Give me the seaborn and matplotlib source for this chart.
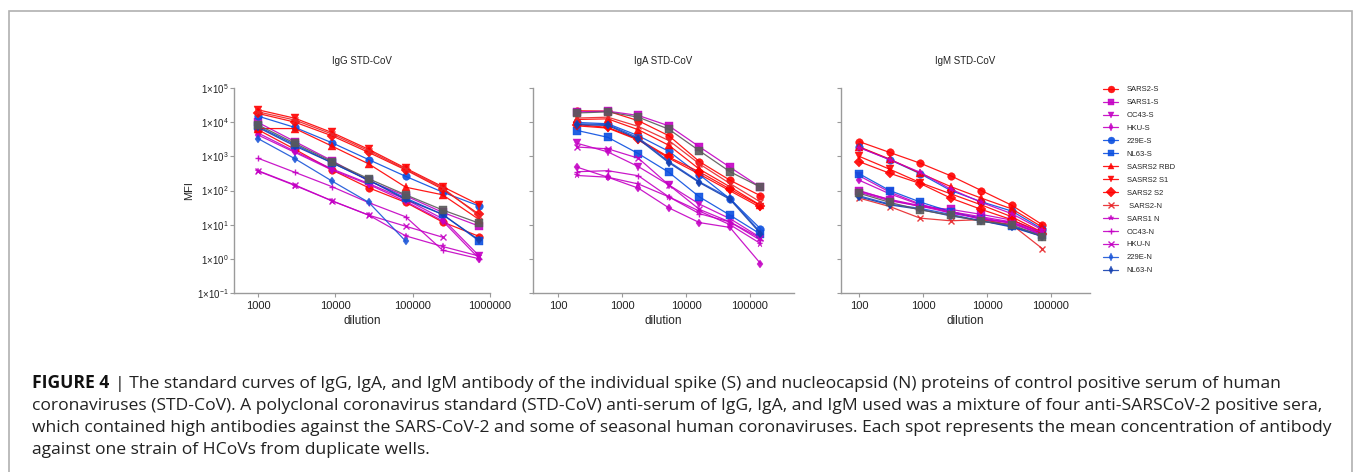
import numpy as np
import matplotlib
matplotlib.use('Agg')
import matplotlib.pyplot as plt
import seaborn as sns
from matplotlib.patches import Rectangle
from matplotlib.ticker import NullLocator

# series in legend order (the last grey one has no legend entry)
series_names = ['SARS2-S', 'SARS1-S', 'OC43-S', 'HKU-S', '229E-S', 'NL63-S',
                'SASRS2 RBD', 'SASRS2 S1', 'SARS2 S2', ' SARS2-N', 'SARS1 N',
                'OC43-N', 'HKU-N', '229E-N', 'NL63-N', '_grey']
series_colors = ['#ff0000', '#c400c4', '#c400c4', '#c400c4', '#0a4fe0', '#0a4fe0',
                 '#ff0000', '#ff0000', '#ff0000', '#e8262a', '#c400c4',
                 '#c400c4', '#c400c4', '#1a55d8', '#1540b0', '#5a5a5a']
series_markers = ['o', 's', 'v', 'd', 'o', 's', '^', 'v', 'D', 'x', '*',
                  '+', 'x', 'd', 'd', 's']

igg_dil = [1000, 3000, 9000, 27000, 81000, 243000, 729000]
iga_dil = [200, 600, 1800, 5400, 16200, 48600, 145800]
igm_dil = [100, 300, 900, 2700, 8100, 24300, 72900]

nan = np.nan
igg_mfi = [
    [6000, 1600, 400, 120, 45, 12, 4.5],
    [9800, 2700, 750, 190, 70, 23, 9],
    [4800, 1400, 430, 160, 55, 15, 1.2],
    [4200, 1300, 400, 150, 48, 13, 1.0],
    [15000, 7000, 2500, 800, 260, 90, 35],
    [7500, 2200, 650, 200, 60, 20, 3.3],
    [6500, 6500, 2000, 600, 125, 75, 14],
    [23000, 13000, 5000, 1600, 450, 130, 38],
    [18000, 10000, 4000, 1300, 400, 110, 20],
    [20000, 11500, 4500, 1450, 420, 120, 18],
    [370, 140, 50, 19, 4.7, 2.3, 1.2],
    [880, 340, 130, 44, 17, 1.8, 1.0],
    [380, 145, 50, 19, 9, 4.3, nan],
    [3300, 850, 190, 45, 3.3, nan, nan],
    [7000, 2000, 650, 200, 55, 20, 3.5],
    [8300, 2400, 700, 220, 75, 27, 11],
]
iga_mfi = [
    [21600, 21000, 11000, 4000, 700, 200, 70],
    [20000, 21000, 15700, 7800, 1900, 480, 125],
    [2400, 1350, 500, 145, 40, 15, 4.2],
    [480, 245, 117, 31, 11.5, 8.3, 0.73],
    [9800, 9000, 4000, 1400, 290, 57, 7.6],
    [5700, 3600, 1200, 340, 65, 19, 5.3],
    [12000, 12500, 6000, 2100, 420, 128, 37],
    [7800, 6700, 3000, 880, 300, 98, 32],
    [8500, 7000, 3200, 950, 350, 110, 36],
    [13200, 14000, 7500, 2900, 600, 160, 46],
    [275, 245, 155, 65, 25, 10, 2.8],
    [355, 380, 270, 65, 21, 12, 3.5],
    [1870, 1660, 880, 145, 28, 12, 4],
    [9000, 8500, 3500, 700, 180, 60, 6],
    [8500, 8000, 3200, 650, 170, 55, 5.5],
    [18600, 20000, 14000, 6200, 1450, 355, 125],
]
igm_mfi = [
    [2700, 1300, 630, 270, 100, 37, 10],
    [100, 53, 34, 28, 20, 13.6, 6],
    [270, 90, 40, 22, 16, 11, 5.5],
    [200, 80, 38, 25, 14, 12, 5],
    [1850, 800, 310, 100, 47, 25, 7.5],
    [310, 100, 46, 24, 15, 9, 5],
    [1900, 830, 320, 130, 60, 29, 8.5],
    [1000, 420, 170, 80, 38, 17, 6],
    [700, 320, 160, 60, 28, 14, 5.5],
    [60, 34, 15.5, 13, 14, 10, 2.0],
    [1800, 800, 340, 110, 45, 21, 7],
    [90, 50, 35, 22, 15, 11, 5],
    [95, 55, 36, 24, 17, 12, 6],
    [70, 40, 30, 20, 13, 9, 4.5],
    [65, 38, 28, 18, 13, 8.5, 4.5],
    [83, 45, 27, 19, 12.5, 10, 4.5],
]

panel_titles = ['IgG STD-CoV', 'IgA STD-CoV', 'IgM STD-CoV']
y_ticks = [1e-1, 1, 1e1, 1e2, 1e3, 1e4, 1e5]
y_ticklabels = [r'1×10$^{-1}$', r'1×10$^{0}$', r'1×10$^{1}$', r'1×10$^{2}$',
                r'1×10$^{3}$', r'1×10$^{4}$', r'1×10$^{5}$']

sns.set_style('ticks')
plt.rcParams['font.family'] = ['Liberation Sans', 'DejaVu Sans']
plt.rcParams['mathtext.default'] = 'regular'

W, H = 1355, 472
fig = plt.figure(figsize=(W / 100, H / 100), dpi=100)

# axes boxes in pixels: left, right, x-limits
panels = [
    (234, 490, (488, 1e6), igg_dil, igg_mfi, [1000, 10000, 100000, 1000000]),
    (533, 794, (40.6, 4.87e5), iga_dil, iga_mfi, [100, 1000, 10000, 100000]),
    (841, 1090, (52, 4.07e5), igm_dil, igm_mfi, [100, 1000, 10000, 100000]),
]
ax_top, ax_bot = 88, 293
axes = []
for i, (l, r, xlim, dil, mfi, xt) in enumerate(panels):
    ax = fig.add_axes([l / W, 1 - ax_bot / H, (r - l) / W, (ax_bot - ax_top) / H])
    for name, c, m, vals in zip(series_names, series_colors, series_markers, mfi):
        small = m in ('d', '*', '+', 'x')
        sns.lineplot(x=dil, y=vals, ax=ax, color=c, marker=m, estimator=None,
                     markersize=4.5 if small else 5.5, mec=c,
                     mew=1.0 if m in ('x', '+') else 0.3,
                     lw=0.9, alpha=0.9, label=name, legend=False)
    ax.set_xscale('log')
    ax.set_yscale('log')
    ax.set_xlim(*xlim)
    ax.set_ylim(1e-1, 1e5)
    ax.set_xticks(xt, [str(v) for v in xt])
    ax.set_yticks(y_ticks, y_ticklabels if i == 0 else [])
    ax.xaxis.set_minor_locator(NullLocator())
    ax.yaxis.set_minor_locator(NullLocator())
    sns.despine(ax=ax)
    for s in ['left', 'bottom']:
        ax.spines[s].set_color('#9a9a9a')
        ax.spines[s].set_linewidth(1.0)
    ax.tick_params(axis='both', colors='#9a9a9a', length=3, width=0.8,
                   labelcolor='#222222')
    ax.tick_params(axis='x', labelsize=8, pad=3)
    ax.tick_params(axis='y', labelsize=7, pad=1)
    ax.set_title(panel_titles[i], fontsize=7, pad=17, color='#222222')
    ax.set_xlabel('dilution', fontsize=8.5, labelpad=3, color='#222222')
    if i == 0:
        ax.set_ylabel('MFI', fontsize=8, labelpad=2, color='#222222')
    else:
        ax.set_ylabel('')
    axes.append(ax)

handles, labels = axes[0].get_legend_handles_labels()
fig.legend(handles, labels, loc='upper left', bbox_to_anchor=(1103 / W, 1 - 86 / H),
           frameon=False, fontsize=5.5, handlelength=2.0, handletextpad=1.1,
           labelspacing=0.73, borderpad=0, borderaxespad=0, markerscale=0.9)

# frame round the figure panel
fig.add_artist(Rectangle((9 / W, -0.05), (1352 - 9) / W, 1 - 10.5 / H + 0.05,
                         transform=fig.transFigure, fill=False,
                         ec='#b0b0b0', lw=1.2))

# caption
cap_lines = [
    '| The standard curves of IgG, IgA, and IgM antibody of the individual spike (S) and nucleocapsid (N) proteins of control positive serum of human',
    'coronaviruses (STD-CoV). A polyclonal coronavirus standard (STD-CoV) anti-serum of IgG, IgA, and IgM used was a mixture of four anti-SARSCoV-2 positive sera,',
    'which contained high antibodies against the SARS-CoV-2 and some of seasonal human coronaviruses. Each spot represents the mean concentration of antibody',
    'against one strain of HCoVs from duplicate wells.',
]
cap_x, cap_y0, cap_dy = 32, 388, 22
cap_font = ['Open Sans', 'DejaVu Sans']
renderer = fig.canvas.get_renderer()

# size the caption font so the second line spans the same width as in the figure
probe = fig.text(0, 0, cap_lines[1], fontsize=10, family=cap_font)
fs = 10 * (1319 - cap_x) / probe.get_window_extent(renderer).width
probe.remove()

bold = fig.text(cap_x / W, 1 - cap_y0 / H, 'FIGURE 4', fontsize=fs, family=cap_font,
                fontweight='bold', va='baseline', color='#111111')
bx = bold.get_window_extent(renderer).x1
fig.text((bx + 6) / W, 1 - cap_y0 / H, cap_lines[0], fontsize=fs, family=cap_font,
         va='baseline', color='#222222')
for k, line in enumerate(cap_lines[1:], start=1):
    fig.text(cap_x / W, 1 - (cap_y0 + k * cap_dy) / H, line, fontsize=fs,
             family=cap_font, va='baseline', color='#222222')

fig.savefig('out.png', dpi=100)
